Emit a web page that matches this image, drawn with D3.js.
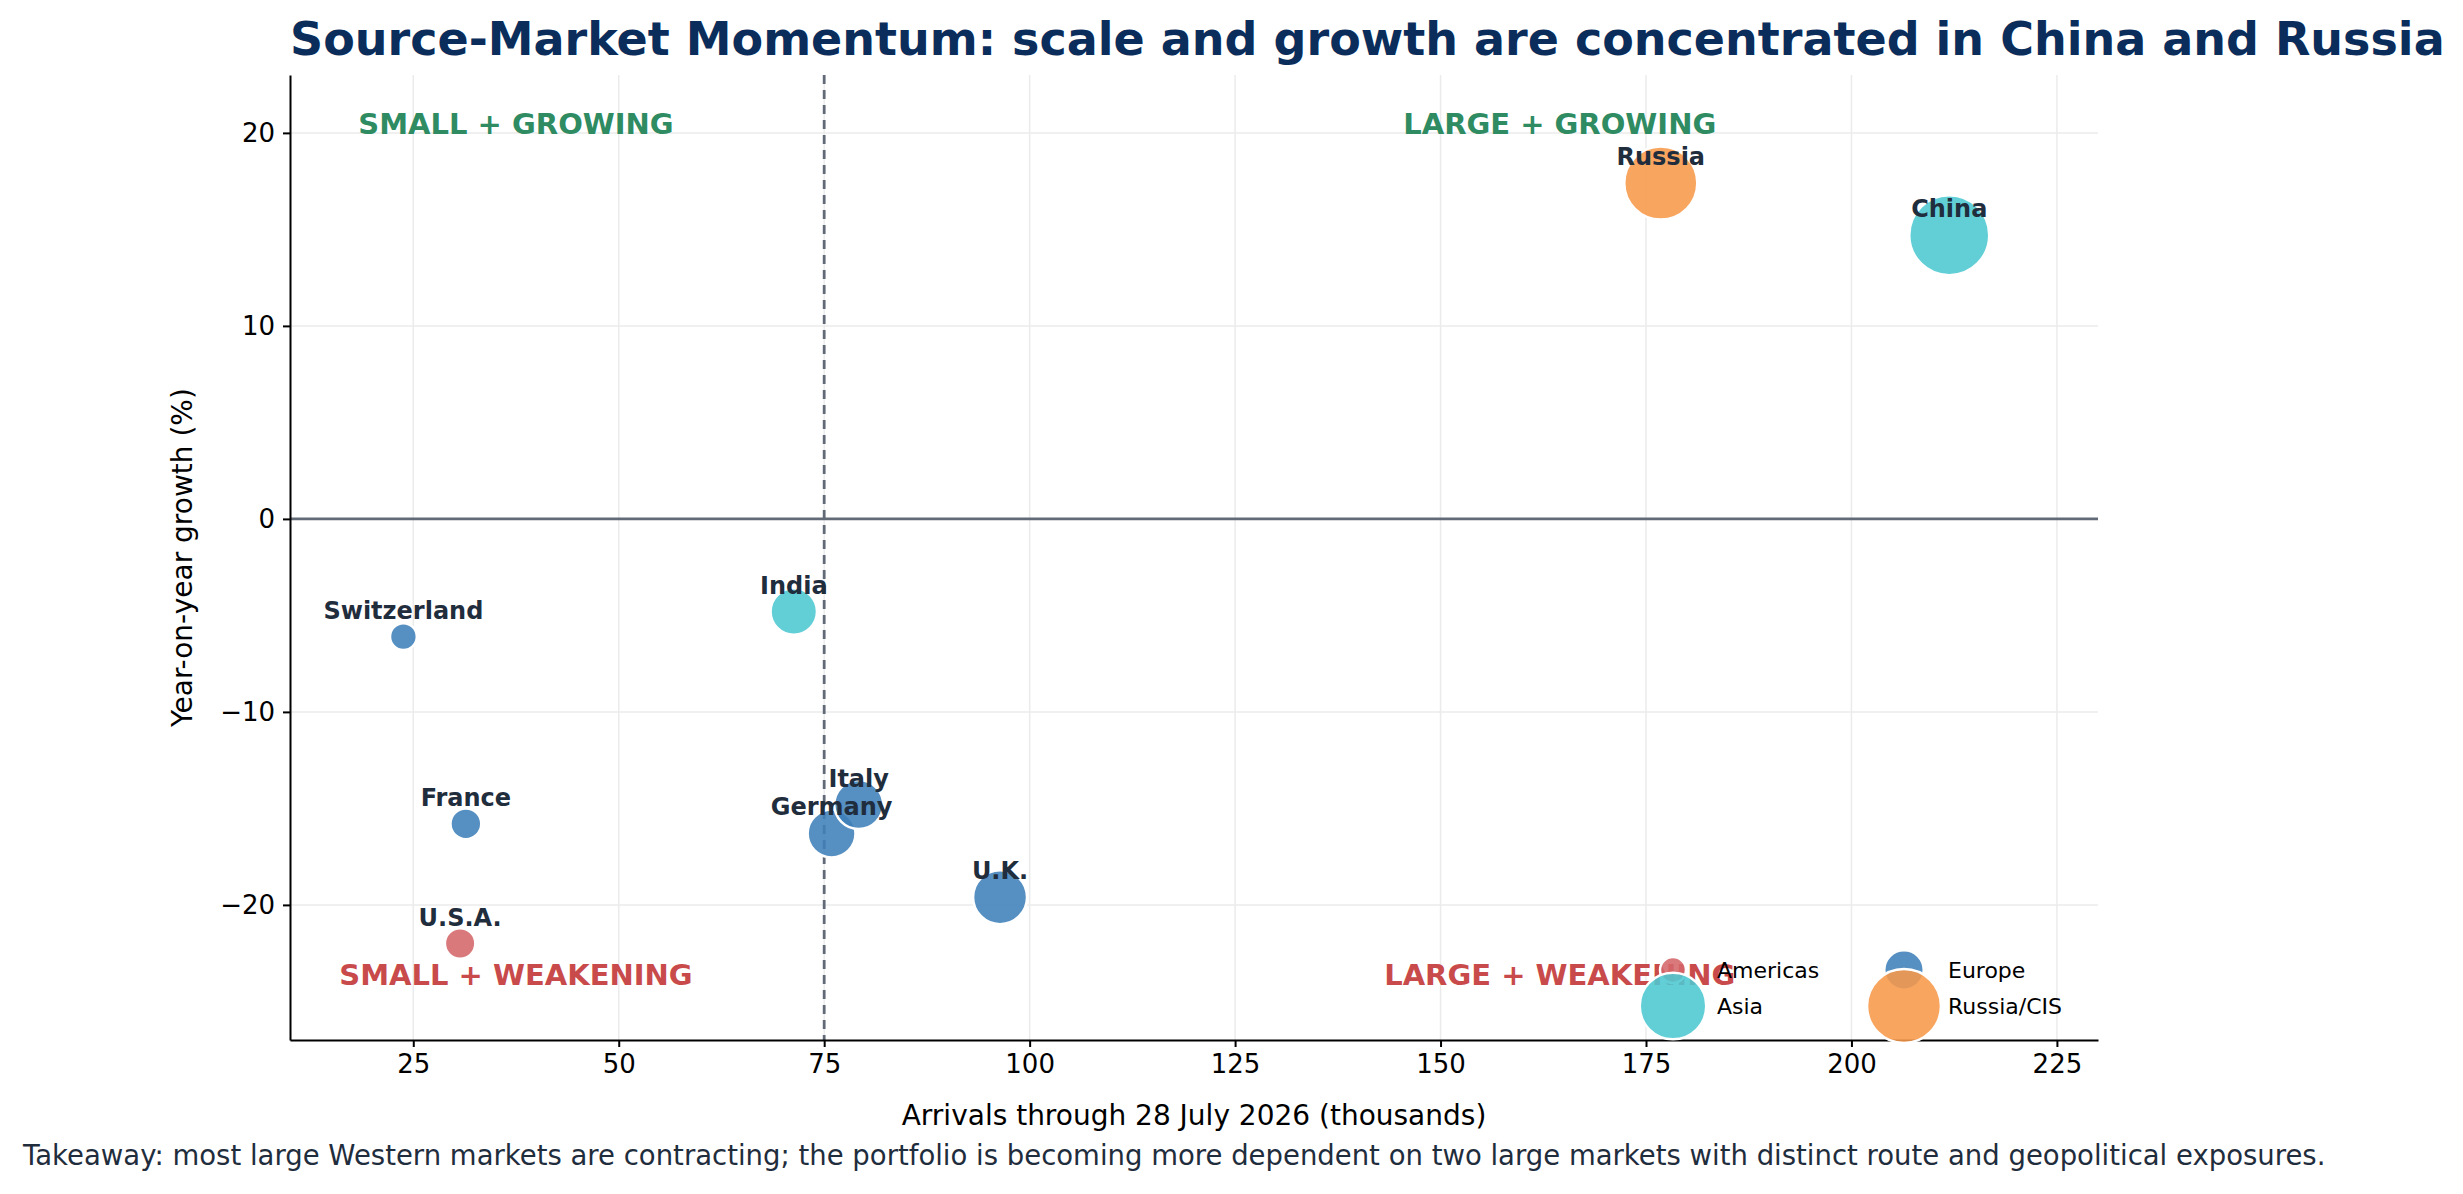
<!DOCTYPE html>
<html>
<head>
<meta charset="utf-8">
<script src="https://cdn.jsdelivr.net/npm/d3@7"></script>
<style>
  body { margin: 0; background: #fff; }
  text { font-family: "DejaVu Sans", sans-serif; }
</style>
</head>
<body>
<div class="canvas"></div>
<script>
// data
const markets  = ['Switzerland', 'France', 'U.S.A.', 'India', 'Germany', 'Italy', 'U.K.', 'Russia', 'China'];
const arrivals = [23.8, 31.4, 30.7, 71.3, 75.9, 79.2, 96.4, 176.8, 211.9];
const growth   = [-6.1, -15.8, -22.0, -4.8, -16.3, -14.8, -19.6, 17.4, 14.7];
const regions  = ['Europe', 'Europe', 'Americas', 'Asia', 'Europe', 'Europe', 'Europe', 'Russia/CIS', 'Asia'];
const legendRegions = ['Americas', 'Europe', 'Asia', 'Russia/CIS'];
const legendSizes = [26, 60, 170, 210];
const xTicks = [25, 50, 75, 100, 125, 150, 175, 200, 225];
const yTicks = [-20, -10, 0, 10, 20];
const quadrants = [
  { text: 'SMALL + GROWING', x: 37.5, y: 20.5, c: '#2e8b62' },
  { text: 'LARGE + GROWING', x: 164.5, y: 20.5, c: '#2e8b62' },
  { text: 'SMALL + WEAKENING', x: 37.5, y: -23.6, c: '#c94a4a' },
  { text: 'LARGE + WEAKENING', x: 164.5, y: -23.6, c: '#c94a4a' }
];
const colors = { 'Americas': '#d4676a', 'Europe': '#3f7fb8', 'Asia': '#4cc8d2', 'Russia/CIS': '#f7994a' };

const W = 2463, H = 1194;
const margin = { top: 75, right: 365, bottom: 154, left: 290 };
const gw = W - margin.left - margin.right;
const gh = H - margin.top - margin.bottom;

const svg = d3.select('.canvas').append('svg').attr('width', W).attr('height', H);
const graph = svg.append('g').attr('transform', `translate(${margin.left},${margin.top})`);

const x = d3.scaleLinear().domain([10, 230]).range([0, gw]);
const y = d3.scaleLinear().domain([-27, 23]).range([gh, 0]);
const r = d3.scaleSqrt().domain([0, 212]).range([0, 40]);

// grid
graph.append('g').selectAll('line').data(xTicks).join('line')
  .attr('x1', d => x(d)).attr('x2', d => x(d)).attr('y1', 0).attr('y2', gh)
  .attr('stroke', '#ebebeb').attr('stroke-width', 1.5);
graph.append('g').selectAll('line').data(yTicks).join('line')
  .attr('x1', 0).attr('x2', gw).attr('y1', d => y(d)).attr('y2', d => y(d))
  .attr('stroke', '#ebebeb').attr('stroke-width', 1.5);

// reference lines
graph.append('line').attr('x1', 0).attr('x2', gw).attr('y1', y(0)).attr('y2', y(0))
  .attr('stroke', '#626a78').attr('stroke-width', 2.8);
graph.append('line').attr('x1', x(75)).attr('x2', x(75)).attr('y1', 0).attr('y2', gh)
  .attr('stroke', '#626a78').attr('stroke-width', 2.8).attr('stroke-dasharray', '9,6');

// quadrant labels
graph.selectAll('.quad').data(quadrants).join('text')
  .attr('x', d => x(d.x)).attr('y', d => y(d.y)).attr('dy', '0.36em')
  .attr('text-anchor', 'middle').attr('font-size', 29).attr('font-weight', 'bold')
  .attr('fill', d => d.c).text(d => d.text);

// bubbles
const pts = markets.map((m, i) => ({ m, a: arrivals[i], g: growth[i], reg: regions[i] }));
graph.selectAll('circle.pt').data(pts).join('circle')
  .attr('class', 'pt')
  .attr('cx', d => x(d.a)).attr('cy', d => y(d.g)).attr('r', d => r(d.a))
  .attr('fill', d => colors[d.reg]).attr('fill-opacity', 0.88)
  .attr('stroke', '#fff').attr('stroke-width', 2.5);
graph.selectAll('text.lbl').data(pts).join('text')
  .attr('class', 'lbl')
  .attr('x', d => x(d.a)).attr('y', d => y(d.g) - 18)
  .attr('text-anchor', 'middle').attr('font-size', 24).attr('font-weight', 'bold')
  .attr('fill', '#1f2d3d').text(d => d.m);

// axes
const xAxis = graph.append('g').attr('transform', `translate(0,${gh})`)
  .call(d3.axisBottom(x).tickValues(xTicks).tickSize(7).tickSizeOuter(0).tickPadding(8));
const yAxis = graph.append('g')
  .call(d3.axisLeft(y).tickValues(yTicks).tickSize(7).tickSizeOuter(0).tickPadding(8)
    .tickFormat(d => d < 0 ? '\u2212' + Math.abs(d) : d));
[xAxis, yAxis].forEach(a => {
  a.selectAll('text').attr('font-size', 26).attr('fill', '#000').attr('font-family', 'DejaVu Sans');
  a.selectAll('line, path').attr('stroke', '#000').attr('stroke-width', 2);
});

// legend
const leg = svg.append('g');
const legPos = [[1673, 970], [1904, 970], [1673, 1006], [1904, 1006]];
legendRegions.forEach((reg, i) => {
  const [lx, ly] = legPos[i];
  leg.append('circle').attr('cx', lx).attr('cy', ly).attr('r', Math.sqrt(legendSizes[i]) * 2.55)
    .attr('fill', colors[reg]).attr('fill-opacity', 0.88).attr('stroke', '#fff').attr('stroke-width', 2.5);
  leg.append('text').attr('x', lx + 44).attr('y', ly).attr('dy', '0.36em')
    .attr('font-size', 22).attr('fill', '#000').text(reg);
});

// titles
svg.append('text').attr('x', 290).attr('y', 55).attr('font-size', 46).attr('font-weight', 'bold')
  .attr('fill', '#0b2d5b').text('Source-Market Momentum: scale and growth are concentrated in China and Russia');
svg.append('text').attr('x', margin.left + gw / 2).attr('y', 1125).attr('text-anchor', 'middle')
  .attr('font-size', 28).attr('fill', '#000').text('Arrivals through 28 July 2026 (thousands)');
svg.append('text').attr('transform', `translate(182,${margin.top + gh / 2}) rotate(-90)`)
  .attr('text-anchor', 'middle').attr('dy', '0.36em')
  .attr('font-size', 28).attr('fill', '#000').text('Year-on-year growth (%)');
svg.append('text').attr('x', 23).attr('y', 1165).attr('font-size', 27.5).attr('fill', '#1f2d3d')
  .text('Takeaway: most large Western markets are contracting; the portfolio is becoming more dependent on two large markets with distinct route and geopolitical exposures.');
</script>
</body>
</html>
